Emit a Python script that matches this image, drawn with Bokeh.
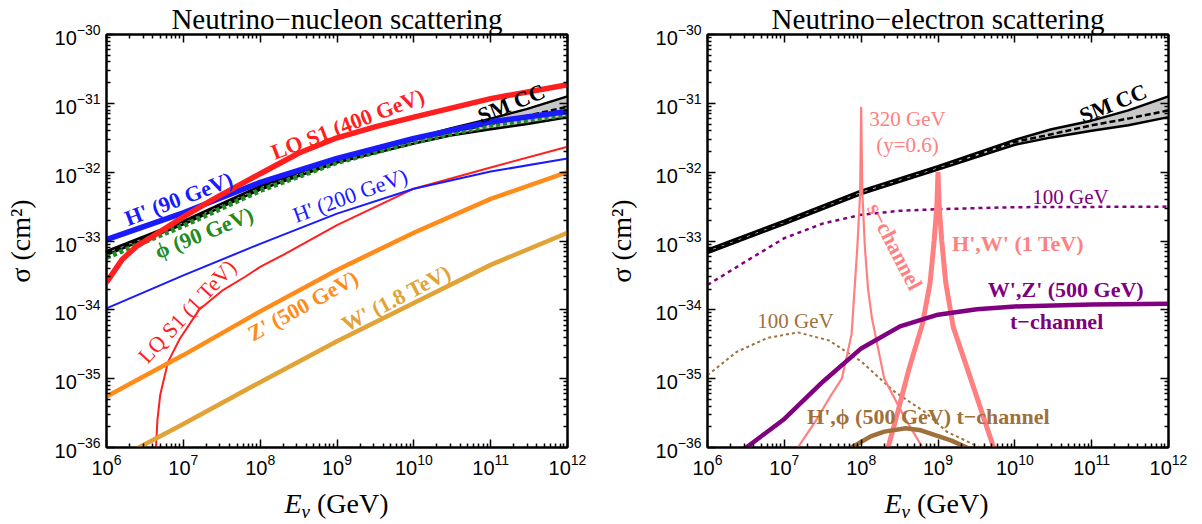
import math
from bokeh.plotting import figure
from bokeh.models import LogAxis, FixedTicker, Label, Div
from bokeh.layouts import row, column
from bokeh.embed import file_html
from bokeh.resources import INLINE

SERIF = "Liberation Serif"
SANS = "Liberation Sans"

# ---------------- tick labels / ranges ----------------
x_major = [1e6, 1e7, 1e8, 1e9, 1e10, 1e11, 1e12]
y_major = [1e-36, 1e-35, 1e-34, 1e-33, 1e-32, 1e-31, 1e-30]

# ---------------- left panel: neutrino-nucleon ----------------
E_dec = [1e6, 1e7, 1e8, 1e9, 1e10, 1e11, 1e12]

smN_E = [1e6, 1e7, 1e8, 1e9, 1e10, 3e10, 1e11, 3e11, 1e12]
smN_mid = [6.8e-34, 1.86e-33, 6.0e-33, 1.48e-32, 2.9e-32, 3.8e-32, 5.0e-32, 6.6e-32, 8.9e-32]
smN_up = [7.1e-34, 1.95e-33, 6.3e-33, 1.55e-32, 3.1e-32, 4.3e-32, 6.0e-32, 8.3e-32, 1.26e-31]
smN_lo = [6.3e-34, 1.74e-33, 5.6e-33, 1.38e-32, 2.6e-32, 3.4e-32, 4.2e-32, 5.0e-32, 6.3e-32]

phi90_sigma = [5.75e-34, 1.66e-33, 5.4e-33, 1.38e-32, 2.75e-32, 4.8e-32, 6.8e-32]
hp90_sigma = [1.05e-33, 2.57e-33, 7.1e-33, 1.58e-32, 3.1e-32, 5.4e-32, 7.6e-32]

lq400_E = [1e6, 1.6e6, 2.5e6, 4e6, 1e7, 2.5e7, 1e8, 3.2e8, 1e9, 3.2e9, 1e10, 1e11, 1e12]
lq400_sigma = [2.5e-34, 5.4e-34, 8.5e-34, 1.17e-33, 2.24e-33, 4.1e-33, 9.5e-33, 1.9e-32, 3.16e-32, 4.6e-32, 6.3e-32, 1.17e-31, 1.86e-31]

lq1T_E = [4.37e6, 4.4e6, 4.6e6, 5e6, 6.3e6, 9e6, 1.6e7, 3.2e7, 6.3e7, 1e8, 2e8, 1e9, 1e10, 1e11, 1e12]
lq1T_sigma = [5e-37, 1e-36, 2.5e-36, 5.8e-36, 1.74e-35, 3.8e-35, 1e-34, 1.9e-34, 3.0e-34, 4.2e-34, 6.3e-34, 1.7e-33, 5.75e-33, 1.17e-32, 2.34e-32]

hp200_sigma = [1.05e-34, 3.16e-34, 9.1e-34, 2.5e-33, 5.75e-33, 1.02e-32, 1.58e-32]

zp500_sigma = [5.5e-36, 2.2e-35, 9.5e-35, 3.8e-34, 1.32e-33, 4.1e-33, 1.0e-32]

wp18_E = [2e6, 1e7, 1e8, 1e9, 1e10, 1e11, 1e12]
wp18_sigma = [8.5e-37, 2.2e-36, 8.9e-36, 3.5e-35, 1.26e-34, 4.5e-34, 1.32e-33]

# ---------------- right panel: neutrino-electron ----------------
smE_E = [1e6, 1e7, 1e8, 1e9, 1e10, 3e10, 1e11, 3e11, 1e12]
smE_mid = [7.1e-34, 1.86e-33, 5.1e-33, 1.15e-32, 2.75e-32, 3.55e-32, 4.8e-32, 6.0e-32, 7.9e-32]
smE_up = [7.5e-34, 1.97e-33, 5.4e-33, 1.22e-32, 2.95e-32, 4.2e-32, 5.6e-32, 7.9e-32, 1.26e-31]
smE_lo = [6.7e-34, 1.76e-33, 4.8e-33, 1.09e-32, 2.5e-32, 3.2e-32, 4.0e-32, 4.8e-32, 6.3e-32]

wz100_E = [1e6, 3.2e6, 1e7, 3.2e7, 1e8, 3.2e8, 1e9, 1e10, 1e12]
wz100_sigma = [2.3e-34, 5.1e-34, 1.1e-33, 1.8e-33, 2.4e-33, 2.75e-33, 2.9e-33, 3.1e-33, 3.16e-33]

wz500_E = [2.5e6, 3.2e6, 1e7, 3.2e7, 1e8, 3.2e8, 1e9, 3.2e9, 1e10, 1e11, 1e12]
wz500_sigma = [7e-37, 1e-36, 2.6e-36, 9.1e-36, 2.75e-35, 5.75e-35, 8.5e-35, 1.02e-34, 1.12e-34, 1.2e-34, 1.23e-34]

hphi100_E = [1e6, 2.4e6, 6e6, 1.5e7, 3.8e7, 1e8, 2.7e8, 6.7e8, 1.3e9, 3.5e9, 4e9]
hphi100_sigma = [1.12e-35, 2.45e-35, 3.9e-35, 4.7e-35, 3.6e-35, 1.78e-35, 6.5e-36, 3.3e-36, 1.7e-36, 1e-36, 8e-37]

hphi500_E = [7e7, 7.5e7, 1.33e8, 2e8, 3.8e8, 6e8, 9.4e8, 1.5e9, 2.37e9, 2.6e9]
hphi500_sigma = [9e-37, 1e-36, 1.45e-36, 1.7e-36, 1.9e-36, 1.78e-36, 1.5e-36, 1.26e-36, 1e-36, 9e-37]

res320_E = [1.26e7, 1.5e7, 2.66e7, 4e7, 5.6e7, 7.5e7, 8.9e7, 9.7e7, 1e8, 1.035e8, 1.12e8, 1.23e8, 1.38e8, 2e8, 3.76e8, 6.3e8, 7.9e8]
res320_sigma = [8e-37, 1e-36, 2.6e-36, 5.6e-36, 1e-35, 4.4e-35, 7.9e-34, 5e-33, 8.9e-32, 5e-33, 7.9e-34, 2e-34, 7.6e-35, 1e-35, 2.6e-36, 1e-36, 7e-37]

res1T_E = [2e8, 2.24e8, 3e8, 4.2e8, 6.3e8, 7.9e8, 8.9e8, 9.66e8, 1e9, 1.035e9, 1.12e9, 1.26e9, 1.58e9, 2.66e9, 5.3e9, 6.3e9]
res1T_sigma = [8e-37, 1e-36, 3.3e-36, 1.4e-35, 6.3e-35, 2.5e-34, 1e-33, 3.2e-33, 1e-32, 3.2e-33, 1e-33, 2.5e-34, 5.6e-35, 1e-35, 1e-36, 7e-37]

# ---------------- colours ----------------
RED = "#ff1f1f"
BLUE = "#1a1aff"
GREEN = "#228b22"
ORANGE = "#ff8c1a"
GOLD = "#e1a236"
SALMON = "#ff8080"
PURPLE = "#800080"
BROWN = "#a0703c"
GREY = "#c8c8c8"

FRAME_W, FRAME_H = 461, 413


def make_fig(title, border_left, border_right):
    p = figure(x_axis_type="log", y_axis_type="log",
               x_range=(x_major[0], x_major[-1]), y_range=(y_major[0], y_major[-1]),
               frame_width=FRAME_W, frame_height=FRAME_H,
               min_border_left=border_left, min_border_right=border_right,
               min_border_top=0, min_border_bottom=38,
               output_backend="svg", toolbar_location=None, title=title)
    p.title.text_font = SERIF
    p.title.text_font_size = "29px"
    p.title.text_font_style = "normal"
    p.title.align = "center"
    p.title.standoff = 0
    p.title.text_color = "black"
    p.grid.visible = False
    p.outline_line_color = "black"
    p.outline_line_width = 2
    p.background_fill_color = "white"
    p.border_fill_color = "white"

    x_minor = [m * t for t in x_major[:-1] for m in range(2, 10)]
    y_minor = [m * t for t in y_major[:-1] for m in range(2, 10)]
    xt = FixedTicker(ticks=x_major, minor_ticks=x_minor)
    yt = FixedTicker(ticks=y_major, minor_ticks=y_minor)

    def style(ax, labels=True):
        ax.axis_line_color = "black"
        ax.axis_line_width = 2
        ax.major_tick_in = 8
        ax.major_tick_out = 0
        ax.minor_tick_in = 4
        ax.minor_tick_out = 0
        ax.major_tick_line_width = 1.5
        ax.minor_tick_line_width = 1.5
        ax.major_tick_line_color = "black"
        ax.minor_tick_line_color = "black"
        if labels:
            ax.major_label_text_font = SANS
            ax.major_label_text_font_size = "20px"
            ax.major_label_text_color = "black"
            ax.major_label_standoff = 6
        else:
            ax.major_label_text_font_size = "1px"
            ax.major_label_text_alpha = 0.0
            ax.major_label_standoff = 0

    p.xaxis[0].ticker = xt
    p.yaxis[0].ticker = yt
    style(p.xaxis[0])
    style(p.yaxis[0])
    p.yaxis[0].axis_label = "σ (cm²)"
    p.yaxis[0].axis_label_text_font = SERIF
    p.yaxis[0].axis_label_text_font_size = "28px"
    p.yaxis[0].axis_label_text_font_style = "normal"
    p.yaxis[0].axis_label_text_color = "black"
    p.yaxis[0].axis_label_standoff = 16

    top = LogAxis(ticker=xt)
    style(top, labels=False)
    p.add_layout(top, "above")
    right = LogAxis(ticker=yt)
    style(right, labels=False)
    p.add_layout(right, "right")
    return p


def xlabel_div(fig_width, border_left):
    html = ('<div style="font-family:\'Liberation Serif\'; font-size:28px; line-height:38px; '
            'color:black; text-align:center; width:%dpx; margin-left:%dpx; white-space:nowrap;">'
            '<i>E</i><sub style="font-size:19px; vertical-align:-5px;"><i>ν</i></sub> (GeV)</div>'
            % (FRAME_W, border_left))
    return Div(text=html, width=fig_width, height=38, margin=0)


def txt(p, x, y, text, color, angle=0.0, style="bold", size=22):
    p.add_layout(Label(x=x, y=y, text=text, text_color=color, text_font=SERIF,
                       text_font_size=f"{size}px", text_font_style=style,
                       angle=math.radians(angle), text_align="center", text_baseline="middle"))


def band(p, E, lo, up, mid):
    p.varea(x=E, y1=lo, y2=up, fill_color=GREY)
    p.line(E, up, line_color="black", line_width=2.5)
    p.line(E, lo, line_color="black", line_width=2.5)
    p.line(E, mid, line_color="black", line_width=2.5, line_dash="6 3")


# ---------------- left figure ----------------
L1, R1 = 106, 35
p1 = make_fig("Neutrino−nucleon scattering", L1, R1)
band(p1, smN_E, smN_lo, smN_up, smN_mid)
p1.line(E_dec, phi90_sigma, line_color=GREEN, line_width=5, line_dash="4 3")
p1.line(E_dec, hp90_sigma, line_color=BLUE, line_width=5.5)
p1.line(lq400_E, lq400_sigma, line_color=RED, line_width=5.5)
p1.line(lq1T_E, lq1T_sigma, line_color=RED, line_width=2)
p1.line(E_dec, hp200_sigma, line_color=BLUE, line_width=2)
p1.line(E_dec, zp500_sigma, line_color=ORANGE, line_width=4.5)
p1.line(wp18_E, wp18_sigma, line_color=GOLD, line_width=4.5)

txt(p1, 1.86e11, 1.0e-31, "SM CC", "black", 22)
txt(p1, 1.38e9, 5.0e-32, "LQ S1 (400 GeV)", RED, 21)
txt(p1, 8.7e6, 4.1e-33, "H' (90 GeV)", BLUE, 21)
txt(p1, 1.86e7, 1.32e-33, "ϕ (90 GeV)", GREEN, 22)
txt(p1, 1.48e9, 4.6e-33, "H' (200 GeV)", BLUE, 20, style="normal")
txt(p1, 1.12e7, 9.5e-35, "LQ S1 (1 TeV)", RED, 47, style="normal")
txt(p1, 3.6e8, 1.15e-34, "Z' (500 GeV)", ORANGE, 29)
txt(p1, 5.9e9, 1.48e-34, "W' (1.8 TeV)", GOLD, 27.5)

# ---------------- right figure ----------------
L2, R2 = 104, 30
p2 = make_fig("Neutrino−electron scattering", L2, R2)
p2.line(wz100_E, wz100_sigma, line_color=PURPLE, line_width=2.5, line_dash="4 4")
p2.line(hphi100_E, hphi100_sigma, line_color=BROWN, line_width=2, line_dash="3 3")
band(p2, smE_E, smE_lo, smE_up, smE_mid)
p2.line(res320_E, res320_sigma, line_color=SALMON, line_width=2.2)
p2.line(res1T_E, res1T_sigma, line_color=SALMON, line_width=5)
p2.line(wz500_E, wz500_sigma, line_color=PURPLE, line_width=4.5)
p2.line(hphi500_E, hphi500_sigma, line_color=BROWN, line_width=4.5)

txt(p2, 1.9e11, 1.0e-31, "SM CC", "black", 22)
txt(p2, 4.0e8, 6.0e-32, "320 GeV", SALMON, style="normal", size=21)
txt(p2, 4.0e8, 2.45e-32, "(y=0.6)", SALMON, style="normal", size=21)
txt(p2, 5.3e10, 4.4e-33, "100 GeV", PURPLE, style="normal", size=21)
txt(p2, 2.75e8, 8.3e-34, "s−channel", SALMON, -62.6)
txt(p2, 1.1e10, 9.1e-34, "H',W' (1 TeV)", SALMON)
txt(p2, 4.6e10, 1.95e-34, "W',Z' (500 GeV)", PURPLE)
txt(p2, 3.5e10, 6.8e-35, "t−channel", PURPLE)
txt(p2, 1.4e7, 6.8e-35, "100 GeV", BROWN, style="normal", size=21)
txt(p2, 7.5e8, 2.8e-36, "H',ϕ (500 GeV) t−channel", BROWN)

W1 = L1 + FRAME_W + R1
W2 = L2 + FRAME_W + R2
d1 = xlabel_div(W1, L1)
d2 = xlabel_div(W2, L2)

layout = column(row(p1, p2), row(d1, d2))
open("out.html", "w").write(file_html(layout, INLINE))
